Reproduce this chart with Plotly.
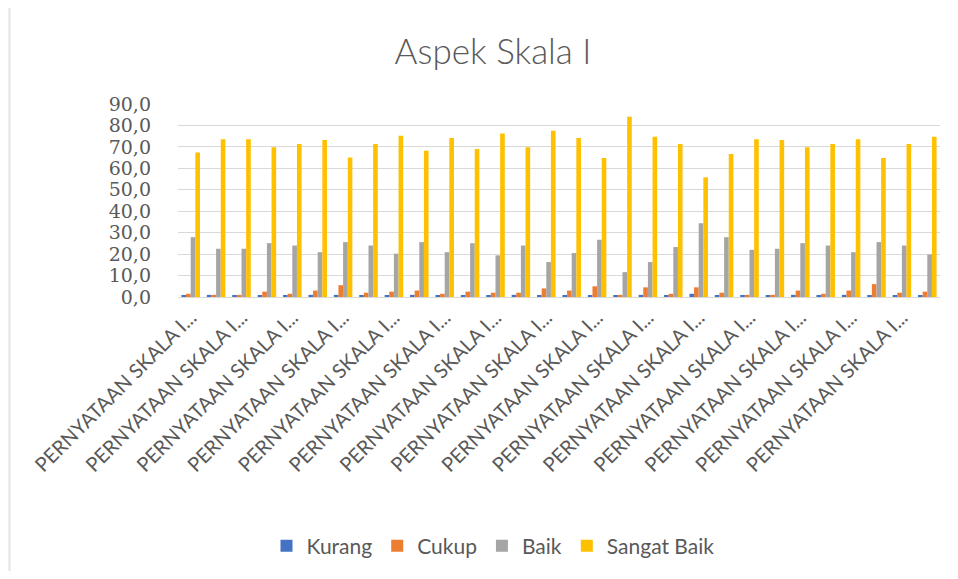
import plotly.graph_objects as go

categories = [f"PERNYATAAN SKALA I.{i}" for i in range(1, 31)]
kurang = [0.5, 1.0, 0.5, 0.5, 0.5, 1.0, 1.0, 0.5, 0.5, 1.0,
          0.5, 0.5, 0.5, 1.0, 0.5, 0.5, 0.5, 0.5, 1.0, 0.5,
          1.5, 0.5, 0.5, 0.5, 1.0, 0.5, 1.0, 0.5, 0.5, 0.5]
cukup = [1.5, 1.0, 1.0, 2.5, 1.5, 3.0, 5.5, 2.0, 2.5, 3.0,
         1.5, 2.5, 2.0, 2.0, 4.0, 3.0, 5.0, 1.0, 4.5, 1.5,
         4.5, 2.0, 1.0, 1.0, 3.0, 1.5, 3.0, 6.0, 2.0, 2.5]
baik = [27.9, 22.5, 22.5, 25.1, 24.0, 20.9, 25.6, 24.0, 20.2, 25.6,
        20.9, 25.1, 19.4, 24.0, 16.3, 20.5, 26.7, 11.6, 16.3, 23.3,
        34.4, 27.9, 22.0, 22.5, 25.1, 24.0, 20.9, 25.6, 24.0, 19.8]
sangat_baik = [67.4, 73.6, 73.6, 69.8, 71.3, 73.2, 65.1, 71.3, 75.2, 68.2,
               74.1, 69.0, 76.3, 69.8, 77.5, 74.1, 64.8, 84.0, 74.7, 71.3,
               55.8, 66.7, 73.6, 73.2, 69.8, 71.3, 73.6, 64.8, 71.3, 74.7]
series_names = ["Kurang", "Cukup", "Baik", "Sangat Baik"]
colors = ["#4472C4", "#ED7D31", "#A5A5A5", "#FFC000"]
y_ticks = [0, 10, 20, 30, 40, 50, 60, 70, 80, 90]
y_tick_text = [f"{v:.1f}".replace(".", ",") for v in y_ticks]
x_tick_vals = categories[0::2]
x_tick_text = ["PERNYATAAN SKALA I..." for _ in x_tick_vals]

# page body has an 8px margin; figure sized so it fits the 958x579 window
OFF = 8
W, H = 958 - 2 * OFF, 579 - 2 * OFF
# plot area in window pixels
L, R, T, B = 178, 940, 104, 297

def px(x):
    return (x - L) / (R - L)

def py(y):
    return (B - y) / (B - T)

fig = go.Figure()
for name, vals, col in zip(series_names, [kurang, cukup, baik, sangat_baik], colors):
    fig.add_trace(go.Bar(x=categories, y=vals, name=name, marker_color=col,
                         marker_line_width=0))

fig.update_layout(
    width=W, height=H,
    margin=dict(l=L - OFF, r=W - (R - OFF), t=T - OFF, b=H - (B - OFF), autoexpand=False),
    paper_bgcolor="white", plot_bgcolor="white",
    barmode="group", bargap=0.27, bargroupgap=0,
    font=dict(family="Lato, sans-serif", color="#595959"),
    title=dict(text="Aspek Skala I", xref="container", yref="container",
               x=(493 - OFF) / W, xanchor="center",
               y=1 - (52 - OFF) / H, yanchor="middle",
               font=dict(size=35, color="#595959", family="Lato", weight=300)),
    legend=dict(orientation="h", x=px(493), xanchor="center", y=py(546), yanchor="middle",
                font=dict(size=21, color="#595959"), traceorder="normal",
                itemwidth=30),
    showlegend=True,
    shapes=[dict(type="rect", xref="paper", yref="paper",
                 x0=px(9.5), x1=px(951), y0=py(574), y1=py(7),
                 line=dict(color="#e3e3e3", width=2), layer="below")],
)
fig.update_yaxes(range=[0, 90], tickvals=y_ticks, ticktext=y_tick_text,
                 showgrid=True, gridcolor="#d9d9d9", gridwidth=1,
                 zeroline=False, showline=False, ticks="",
                 ticklabelstandoff=26,
                 tickfont=dict(family="DejaVu Serif, serif", size=19, color="#595959"))
fig.update_xaxes(type="category", tickvals=x_tick_vals, ticktext=x_tick_text,
                 tickangle=-45, showgrid=False, ticks="",
                 showline=True, linecolor="#d9d9d9", linewidth=1,
                 tickfont=dict(family="Lato, sans-serif", size=20, color="#595959"))

fig.write_html("out.html")
